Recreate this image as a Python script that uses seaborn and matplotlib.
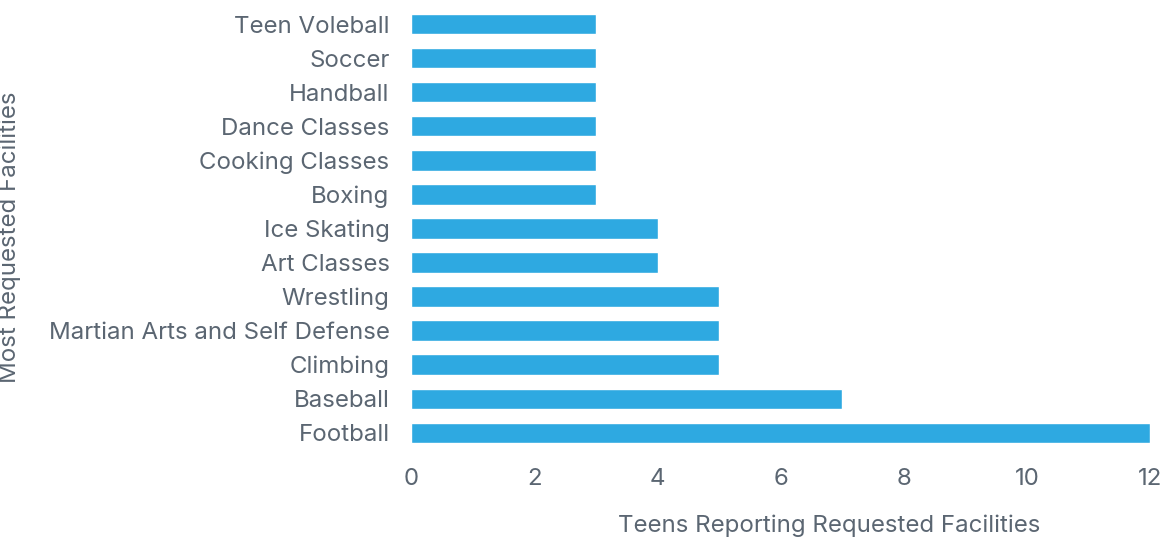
import matplotlib
matplotlib.use("Agg")
import matplotlib.pyplot as plt
import seaborn as sns
import pandas as pd

# data
facilities = ['Teen Voleball', 'Soccer', 'Handball', 'Dance Classes', 'Cooking Classes',
              'Boxing', 'Ice Skating', 'Art Classes', 'Wrestling',
              'Martian Arts and Self Defense', 'Climbing', 'Baseball', 'Football']
teens = [3, 3, 3, 3, 3, 3, 4, 4, 5, 5, 5, 7, 12]
x_ticks = [0, 2, 4, 6, 8, 10, 12]

df = pd.DataFrame({'Facility': facilities, 'Teens': teens})

sns.set_style('white')
plt.rcParams['font.family'] = ['Inter', 'DejaVu Sans']
text_col = '#5b6672'

fig = plt.figure(figsize=(11.68, 5.4), dpi=100)
ax = fig.add_axes([0.352, 0.167, 0.633, 0.82])

sns.barplot(data=df, x='Teens', y='Facility', color='#2ea9e1', saturation=1,
            width=0.6, ax=ax)

ax.set_xlim(0, 12)
ax.set_xticks(x_ticks)
for s in ax.spines.values():
    s.set_visible(False)
ax.tick_params(axis='both', length=0, labelsize=17.3, colors=text_col)
ax.tick_params(axis='y', pad=15.5)
ax.tick_params(axis='x', pad=13)

ax.set_xlabel('Teens Reporting Requested Facilities', fontsize=17.3, color=text_col)
ax.set_ylabel('Most Requested Facilities', fontsize=17.3, color=text_col)
ax.xaxis.set_label_coords(0.566, -0.145)
ax.yaxis.set_label_coords(-0.528, 0.48)

fig.savefig('out.png', dpi=100)
